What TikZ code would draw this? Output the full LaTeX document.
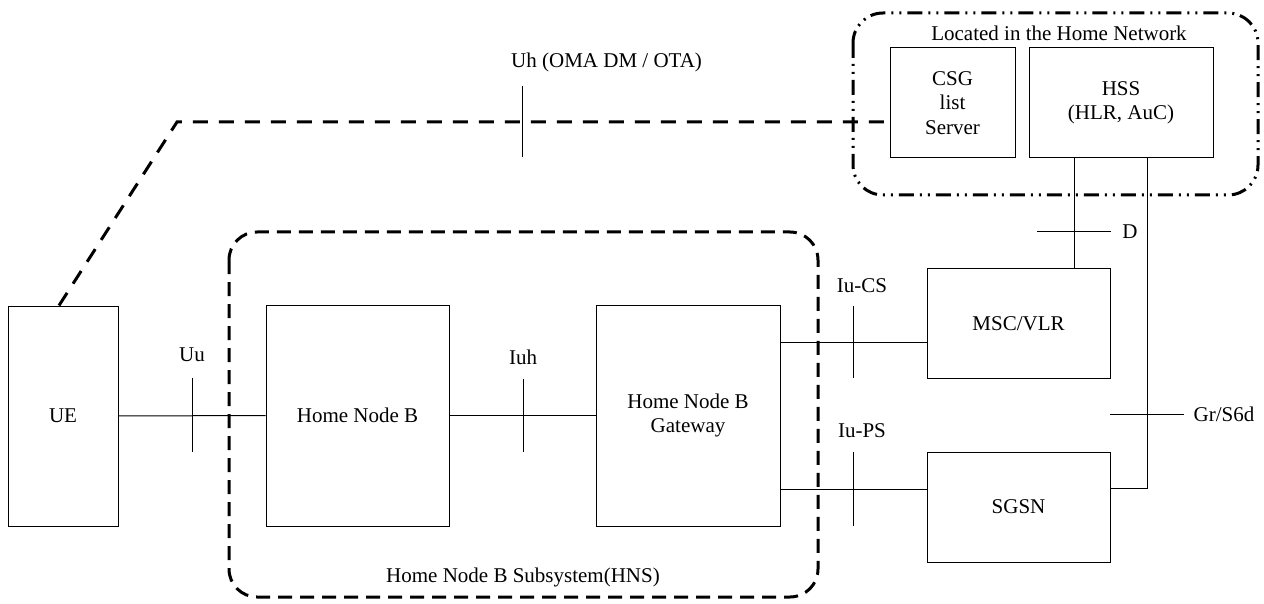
\documentclass[tikz,border=0pt]{standalone}
\usepackage{fontspec}
\setmainfont{Liberation Serif}
\begin{document}
\begin{tikzpicture}[x=1pt,y=-1pt,
  font=\fontsize{21}{24.5}\selectfont,
  box/.style={draw=black,line width=1pt,rectangle,inner sep=0pt,align=center},
  link/.style={draw=black,line width=1pt},
  tick/.style={draw=black,line width=1pt},
  lbl/.style={inner sep=0pt,align=center},
  hnsline/.style={line width=3pt,dash pattern=on 14pt off 8pt},
  uhline/.style={line width=3pt,dash pattern=on 15pt off 11pt},
  homeline/.style={line width=3pt,dash pattern=on 15pt off 6pt on 2pt off 6pt on 2pt off 6pt}]
\useasboundingbox (0,0) rectangle (1264,604);

% boxes
\node[box,minimum width=110pt,minimum height=220pt] (ue) at (63,416) {UE};
\node[box,minimum width=183pt,minimum height=221pt] (hnb) at (357.5,415.5) {Home Node B};
\node[box,minimum width=184pt,minimum height=221pt] (gw) at (688,415.5) {Home Node B\\Gateway};
\node[box,minimum width=183pt,minimum height=109pt] (msc) at (1018.5,323.5) {MSC/VLR};
\node[box,minimum width=183pt,minimum height=110pt] (sgsn) at (1018.5,507) {SGSN};
\node[box,minimum width=125pt,minimum height=110pt] (csg) at (952.5,103) {CSG\\list\\Server};
\node[box,minimum width=184pt,minimum height=110pt] (hss) at (1121,103) {HSS\\(HLR, AuC)};

% grouping boxes
\draw[homeline,rounded corners=30pt] (853,13) rectangle (1258,195);
\draw[hnsline,rounded corners=28pt] (229,232) rectangle (818,597);

% labels
\node[lbl] (lochome) at (1059,33) {Located in the Home Network};
\node[lbl] (hnslbl) at (523,577) {Home Node B Subsystem(HNS)};
\node[lbl,anchor=west] (uhlbl) at (511,62) {Uh (OMA DM / OTA)};
\node[lbl] (uulbl) at (192,355) {Uu};
\node[lbl] (iuhlbl) at (523,357) {Iuh};
\node[lbl] (iucslbl) at (862,286) {Iu-CS};
\node[lbl] (iupslbl) at (862,431) {Iu-PS};
\node[lbl] (dlbl) at (1130,232) {D};
\node[lbl] (grlbl) at (1224,414) {Gr/S6d};

% connectors
\draw[link] (ue.east) -- (hnb.west);
\draw[link] (hnb.east) -- (gw.west);
\draw[link] (gw.east |- 0,342) -- (msc.west |- 0,342);
\draw[link] (gw.east |- 0,489) -- (sgsn.west |- 0,489);
\draw[link] (hss.south -| 1074,0) -- (msc.north -| 1074,0);
\draw[link] (hss.south -| 1147,0) -- (1147,488) -- (sgsn.east |- 0,488);
\coordinate (uhbend) at (177,122);
\draw[uhline] (ue.north -| 59,0) -- (uhbend) -- (csg.west |- 0,122);

% interface ticks
\draw[tick] (192,378) -- (192,452);
\draw[tick] (523,379) -- (523,452);
\draw[tick] (853,306) -- (853,378);
\draw[tick] (853,452) -- (853,526);
\draw[tick] (1037,232) -- (1111,232);
\draw[tick] (1110,414) -- (1184,414);
\draw[tick] (522,86) -- (522,157);
\end{tikzpicture}
\end{document}
